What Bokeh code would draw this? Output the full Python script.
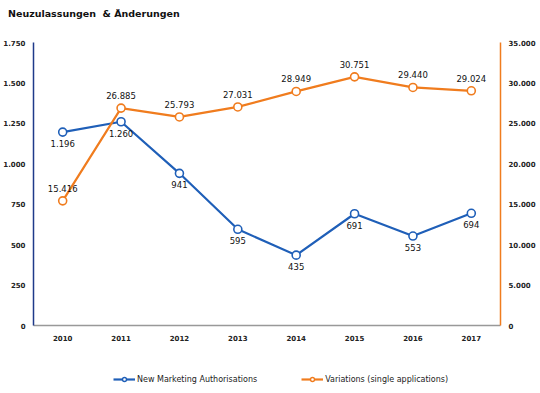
from bokeh.plotting import figure
from bokeh.layouts import column
from bokeh.models import (Range1d, LinearAxis, FixedTicker, ColumnDataSource,
                          Legend, LegendItem, Div)
from bokeh.core.properties import value
from bokeh.embed import file_html
from bokeh.resources import INLINE

years = ["2010", "2011", "2012", "2013", "2014", "2015", "2016", "2017"]
new_ma = [1196, 1260, 941, 595, 435, 691, 553, 694]
variations = [15416, 26885, 25793, 27031, 28949, 30751, 29440, 29024]
left_ticks = [0, 250, 500, 750, 1000, 1250, 1500, 1750]
right_ticks = [0, 5000, 10000, 15000, 20000, 25000, 30000, 35000]
series_names = ["New Marketing Authorisations", "Variations (single applications)"]
title_text = "Neuzulassungen&nbsp; &amp; Änderungen"

BLUE = "#1f5fb8"
ORANGE = "#f07c1e"
FONT = "DejaVu Sans"

def de(n):
    return f"{n:,}".replace(",", ".")

src_b = ColumnDataSource(dict(x=years, y=new_ma, lab=[de(v) for v in new_ma]))
src_o = ColumnDataSource(dict(x=years, y=variations, lab=[de(v) for v in variations]))

title = Div(text=title_text, width=524, height=22, margin=(8, 0, 0, 8),
            styles={"font-family": FONT, "font-size": "9.5px", "font-weight": "bold",
                    "color": "#111111", "line-height": "12px"})

p = figure(frame_width=467, frame_height=283, x_range=years, y_range=Range1d(0, 1750),
           output_backend="svg", toolbar_location=None,
           min_border_left=25, min_border_right=40, min_border_top=12,
           min_border_bottom=28)
p.x_range.range_padding = 0
p.extra_y_ranges = {"r": Range1d(0, 35000)}

p.grid.visible = False
p.outline_line_color = None

def style(ax):
    ax.major_tick_line_color = None
    ax.minor_tick_line_color = None
    ax.major_label_text_font = FONT
    ax.major_label_text_font_size = "7px"
    ax.major_label_text_font_style = "bold"
    ax.major_label_text_color = "#222222"
    ax.axis_line_width = 1.5

ax = p.yaxis[0]
ax.ticker = FixedTicker(ticks=left_ticks)
ax.major_label_overrides = {t: de(t) for t in left_ticks}
style(ax)
ax.axis_line_color = "#1f3a8a"
ax.major_label_standoff = 2

ra = LinearAxis(y_range_name="r", ticker=FixedTicker(ticks=right_ticks))
ra.major_label_overrides = {t: de(t) for t in right_ticks}
style(ra)
ra.axis_line_color = ORANGE
ra.major_label_standoff = 2
p.add_layout(ra, "right")

xa = p.xaxis[0]
style(xa)
xa.axis_line_color = "#999999"
xa.major_label_standoff = 3

lb = p.line("x", "y", source=src_b, line_color=BLUE, line_width=2.2)
cb = p.scatter("x", "y", source=src_b, size=8, fill_color="white",
               line_color=BLUE, line_width=1.6)
lo = p.line("x", "y", source=src_o, line_color=ORANGE, line_width=2.2, y_range_name="r")
co = p.scatter("x", "y", source=src_o, size=8, fill_color="white",
               line_color=ORANGE, line_width=1.6, y_range_name="r")

p.text("x", "y", text="lab", source=src_b, text_font=value(FONT),
       text_font_size="8.5px", text_align="center", text_baseline="top",
       y_offset=8, text_color="#111111")
p.text("x", "y", text="lab", source=src_o, y_range_name="r", text_font=value(FONT),
       text_font_size="8.5px", text_align="center", text_baseline="bottom",
       y_offset=-9, text_color="#111111")

# legend strip below the chart (its glyph renderers sit outside its visible range)
lf = figure(width=532, height=32, x_range=years, y_range=Range1d(-2, -1),
            output_backend="svg", toolbar_location=None,
            min_border=0)
lf.axis.visible = False
lf.grid.visible = False
lf.outline_line_color = None
lb2 = lf.line("x", "y", source=src_b, line_color=BLUE, line_width=2.2)
cb2 = lf.scatter("x", "y", source=src_b, size=7, fill_color="white",
                 line_color=BLUE, line_width=1.4)
lo2 = lf.line("x", "y", source=src_o, line_color=ORANGE, line_width=2.2)
co2 = lf.scatter("x", "y", source=src_o, size=7, fill_color="white",
                 line_color=ORANGE, line_width=1.4)
legend = Legend(items=[
    LegendItem(label=series_names[0], renderers=[lb2, cb2]),
    LegendItem(label=series_names[1], renderers=[lo2, co2]),
], orientation="horizontal", location=(80, 1),
    label_text_font=FONT, label_text_font_size="8px", label_text_color="#222222",
    glyph_width=22, glyph_height=10, spacing=44, padding=2, margin=0,
    border_line_color=None, background_fill_alpha=0, label_standoff=2,
    label_height=10)
lf.add_layout(legend)

layout = column(title, p, lf, spacing=0)
open("out.html", "w").write(file_html(layout, INLINE))
